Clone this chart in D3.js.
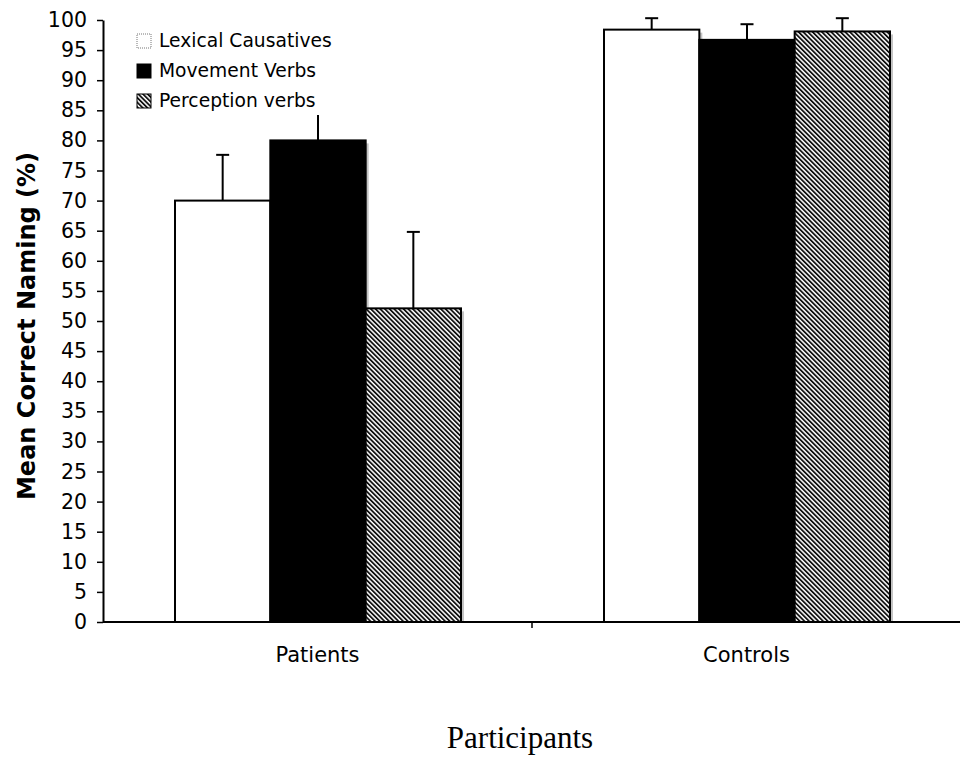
<!DOCTYPE html>
<html>
<head>
<meta charset="utf-8">
<script src="https://cdnjs.cloudflare.com/ajax/libs/d3/7.8.5/d3.min.js"></script>
<style>
  html, body { margin: 0; padding: 0; background: #fff; }
  svg { display: block; }
</style>
</head>
<body>
<svg id="chart" width="960" height="759"></svg>
<script>
// Mean correct naming (%) by participant group and verb type
const groups = ["Patients", "Controls"];
const seriesNames = ["Lexical Causatives", "Movement Verbs", "Perception verbs"];
const lexicalCausatives = [70, 98.4];
const movementVerbs = [80, 96.7];
const perceptionVerbs = [52.1, 98.1];
const errLexical = [7.6, 1.9];
const errMovement = [6, 2.6];
const errPerception = [12.7, 2.2];
const yTicks = d3.range(0, 101, 5);

const seriesValues = [lexicalCausatives, movementVerbs, perceptionVerbs];
const seriesErrors = [errLexical, errMovement, errPerception];
const fills = ["#ffffff", "#000000", "url(#hatch)"];

const svg = d3.select("#chart");
const margin = { left: 103, top: 20, bottom: 622, right: 961 };

const x0 = d3.scaleBand().domain(groups).range([margin.left, margin.right]).padding(0);
const x1 = d3.scaleBand().domain(seriesNames).range([72, x0.bandwidth() - 71]).padding(0);
const y = d3.scaleLinear().domain([0, 100]).range([margin.bottom, margin.top]);

// diagonal hatch for the third series
const defs = svg.append("defs");
const pat = defs.append("pattern")
  .attr("id", "hatch")
  .attr("patternUnits", "userSpaceOnUse")
  .attr("width", 3.3).attr("height", 3.3)
  .attr("patternTransform", "rotate(-45)");
pat.append("rect").attr("width", 3.3).attr("height", 3.3).attr("fill", "#ffffff");
pat.append("rect").attr("width", 1.8).attr("height", 3.3).attr("fill", "#111");

const rows = [];
groups.forEach((g, gi) => {
  seriesNames.forEach((s, si) => {
    rows.push({ group: g, series: s, si, value: seriesValues[si][gi], err: seriesErrors[si][gi] });
  });
});

const barG = svg.append("g");
// soft grey shadow on the right of each bar
barG.selectAll("rect.shadow").data(rows).join("rect")
  .attr("class", "shadow")
  .attr("x", d => x0(d.group) + x1(d.series) + 3)
  .attr("y", d => y(d.value) + 3)
  .attr("width", x1.bandwidth())
  .attr("height", d => y(0) - y(d.value) - 3)
  .attr("fill", "#c4c4c4");

// error bars (upper whisker only)
const errG = svg.append("g").attr("stroke", "#000").attr("stroke-width", 2);
errG.selectAll("line.whisker").data(rows).join("line")
  .attr("x1", d => x0(d.group) + x1(d.series) + x1.bandwidth() / 2)
  .attr("x2", d => x0(d.group) + x1(d.series) + x1.bandwidth() / 2)
  .attr("y1", d => y(d.value))
  .attr("y2", d => y(d.value + d.err));
errG.selectAll("line.cap").data(rows).join("line")
  .attr("x1", d => x0(d.group) + x1(d.series) + x1.bandwidth() / 2 - 6.5)
  .attr("x2", d => x0(d.group) + x1(d.series) + x1.bandwidth() / 2 + 6.5)
  .attr("y1", d => y(d.value + d.err))
  .attr("y2", d => y(d.value + d.err));

barG.raise();
barG.selectAll("rect.bar").data(rows).join("rect")
  .attr("class", "bar")
  .attr("x", d => x0(d.group) + x1(d.series))
  .attr("y", d => y(d.value))
  .attr("width", x1.bandwidth())
  .attr("height", d => y(0) - y(d.value))
  .attr("fill", d => fills[d.si])
  .attr("stroke", "#000")
  .attr("stroke-width", 2);

// y axis
const yAxis = svg.append("g")
  .attr("transform", `translate(${margin.left},0)`)
  .call(d3.axisLeft(y).tickValues(yTicks).tickSize(6).tickSizeOuter(0).tickPadding(10));
yAxis.select(".domain").attr("stroke-width", 2);
yAxis.selectAll(".tick line").attr("stroke-width", 1.5);
yAxis.selectAll("text")
  .attr("font-family", "'DejaVu Sans', Verdana, sans-serif")
  .attr("font-size", 20.5)
  .attr("fill", "#000");

// x axis with ticks at category boundaries
const xAxisG = svg.append("g").attr("transform", `translate(0,${y(0)})`);
xAxisG.append("line")
  .attr("x1", margin.left).attr("x2", margin.right)
  .attr("stroke", "#000").attr("stroke-width", 2);
xAxisG.selectAll("line.tick").data(groups.slice(1)).join("line")
  .attr("class", "tick")
  .attr("x1", d => x0(d)).attr("x2", d => x0(d))
  .attr("y1", 0).attr("y2", 6)
  .attr("stroke", "#000").attr("stroke-width", 1.5);
xAxisG.selectAll("text").data(groups).join("text")
  .attr("x", d => x0(d) + x0.bandwidth() / 2)
  .attr("y", 40)
  .attr("text-anchor", "middle")
  .attr("font-family", "'DejaVu Sans', Verdana, sans-serif")
  .attr("font-size", 21)
  .attr("fill", "#000")
  .text(d => d);

// axis titles
svg.append("text")
  .attr("transform", "translate(35,326) rotate(-90)")
  .attr("text-anchor", "middle")
  .attr("font-family", "'DejaVu Sans', Verdana, sans-serif")
  .attr("font-weight", "bold")
  .attr("font-size", 24)
  .text("Mean Correct Naming (%)");

svg.append("text")
  .attr("x", 520).attr("y", 748)
  .attr("text-anchor", "middle")
  .attr("font-family", "'Liberation Serif', 'Times New Roman', serif")
  .attr("font-size", 31)
  .text("Participants");

// legend
const legend = svg.append("g").attr("transform", "translate(130,26)");
legend.append("rect")
  .attr("width", 202).attr("height", 89)
  .attr("fill", "#fff");
const item = legend.selectAll("g.item").data(seriesNames).join("g")
  .attr("class", "item")
  .attr("transform", (d, i) => `translate(7,${8 + i * 30})`);
item.append("rect")
  .attr("width", 14).attr("height", 14)
  .attr("fill", (d, i) => fills[i])
  .attr("stroke", (d, i) => i === 0 ? "#777" : "#000")
  .attr("stroke-width", 1)
  .attr("stroke-dasharray", (d, i) => i === 0 ? "1,1" : null);
item.append("text")
  .attr("x", 22).attr("y", 13)
  .attr("font-family", "'DejaVu Sans', Verdana, sans-serif")
  .attr("font-size", 18.7)
  .attr("fill", "#000")
  .text(d => d);
</script>
</body>
</html>
